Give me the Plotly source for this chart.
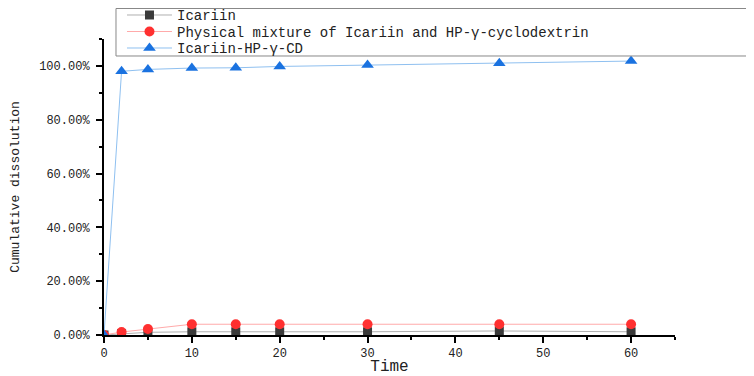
import plotly.graph_objects as go

time = [0, 2, 5, 10, 15, 20, 30, 45, 60]
icariin = [0.0, 0.005, 0.010, 0.012, 0.012, 0.012, 0.012, 0.015, 0.012]
physical_mixture = [0.0, 0.011, 0.022, 0.040, 0.040, 0.040, 0.040, 0.040, 0.040]
complex_cd = [0.0, 0.980, 0.987, 0.992, 0.993, 0.998, 1.003, 1.010, 1.018]

names = ["Icariin", "Physical mixture of Icariin and HP-γ-cyclodextrin", "Icariin-HP-γ-CD"]
y_ticks = [0, 0.2, 0.4, 0.6, 0.8, 1.0]
x_ticks = [0, 10, 20, 30, 40, 50, 60]

fig = go.Figure()
fig.add_trace(go.Scatter(x=time, y=icariin, name=names[0], mode="lines+markers", legend="legend",
                         line=dict(color="#b0b0b0", width=1),
                         marker=dict(symbol="square", size=9, color="#3a3a3a")))
fig.add_trace(go.Scatter(x=time, y=physical_mixture, name=names[1], mode="lines+markers", legend="legend2",
                         line=dict(color="#ffaaaa", width=1),
                         marker=dict(symbol="circle", size=10, color="#ff3030")))
fig.add_trace(go.Scatter(x=time, y=complex_cd, name=names[2], mode="lines+markers", legend="legend3",
                         line=dict(color="#8fc0f0", width=1),
                         marker=dict(symbol="triangle-up", size=11, color="#1a72e0")))

leg_font = dict(family="Liberation Mono", size=14, color="#222")
def leg(y):
    return dict(x=0.0315, y=y, xanchor="left", yanchor="top",
                bgcolor="rgba(0,0,0,0)", borderwidth=0, font=leg_font, itemwidth=45)

axis_font = dict(family="Liberation Mono", size=12, color="#222")
fig.update_layout(
    width=746, height=368,
    margin=dict(l=96, r=79, t=31, b=41, autoexpand=False),
    plot_bgcolor="white", paper_bgcolor="white",
    showlegend=True,
    legend=leg(1.1338), legend2=leg(1.0780), legend3=leg(1.0223),
    shapes=[dict(type="rect", xref="paper", yref="paper", x0=0.021, x1=1.1313, y0=0.9426, y1=1.103,
                 line=dict(color="#888", width=1), fillcolor="white", layer="above")],
    xaxis=dict(range=[0, 65], tickvals=x_ticks, showgrid=False, zeroline=False,
               showline=True, linecolor="black", linewidth=2,
               ticks="outside", ticklen=6, tickwidth=2, tickcolor="black",
               minor=dict(dtick=5, ticks="outside", ticklen=3, tickwidth=2, tickcolor="black"),
               tickfont=axis_font,
               title=dict(text="Time", font=dict(family="Liberation Mono", size=16, color="#222"), standoff=7)),
    yaxis=dict(range=[0, 1.1], tickvals=y_ticks, tickformat=".2%", showgrid=False, zeroline=False,
               showline=True, linecolor="black", linewidth=2,
               ticks="outside", ticklen=6, tickwidth=2, tickcolor="black",
               minor=dict(dtick=0.1, ticks="outside", ticklen=3, tickwidth=2, tickcolor="black"),
               tickfont=axis_font, ticklabelstandoff=4,
               title=dict(text="Cumulative dissolution", font=dict(family="Liberation Mono", size=13, color="#222"), standoff=32)),
)
fig.write_html("out.html")
